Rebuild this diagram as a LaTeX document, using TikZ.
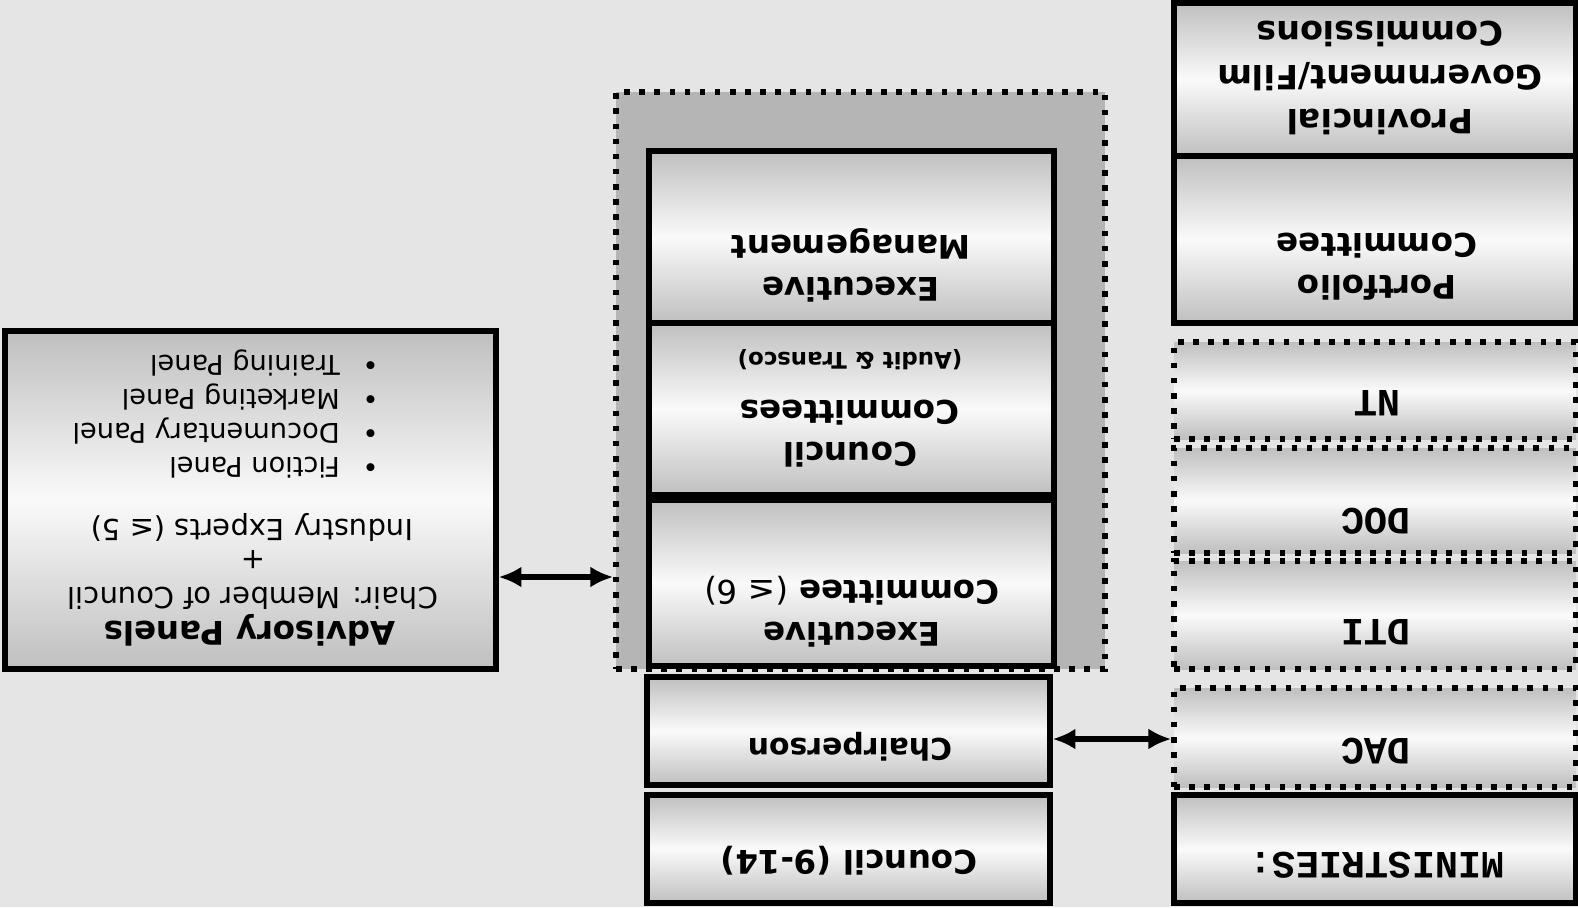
\documentclass[tikz,border=0pt]{standalone}
\usepackage{fontspec}
\setmainfont{DejaVu Sans}
\newfontfamily\monofont{Liberation Mono}
\usepackage{tikz}
\usetikzlibrary{arrows.meta,fit}

\begin{document}
\begin{tikzpicture}[
    x=0.02cm, y=-0.02cm,
    shadebox/.style={draw=black, line width=3pt, inner sep=0pt, top color=gray!50, bottom color=gray!50, middle color=gray!4},
    dotbox/.style={shadebox, line width=3.2pt, dash pattern=on 3.2pt off 5.4pt},
    grouparea/.style={draw=black, line width=3.2pt, dash pattern=on 3.2pt off 5.4pt, fill=gray!58, inner sep=0pt},
    head/.style={rotate=180, align=center, inner sep=0pt, font=\bfseries\fontsize{18.5}{24}\selectfont},
    smallhead/.style={head, font=\bfseries\fontsize{17}{21}\selectfont},
    codehead/.style={rotate=180, inner sep=0pt, font=\monofont\bfseries\fontsize{22}{26}\selectfont},
    body/.style={rotate=180, inner sep=0pt, font=\fontsize{16.5}{20}\selectfont},
    twoway/.style={{Latex[length=13pt,width=12pt]}-{Latex[length=13pt,width=12pt]}, line width=3.5pt}
  ]
    \useasboundingbox (0,0) rectangle (1578,907);
    \clip (0,0) rectangle (1578,907);
    \fill[gray!20] (0,0) rectangle (1578,907);

    % advisory panels
    \node[shadebox, fit={(5,331) (496,669)}] (advisory) {};
    \node[head] (advtitle) at (250,630) {Advisory Panels};
    \node[body] (advchair) at (253,598) {Chair: Member of Council};
    \node[body] (advplus) at (253,560) {+};
    \node[body] (advexperts) at (252,527) {Industry Experts (≤ 5)};
    \node[body, align=left, anchor=west, font=\fontsize{15.5}{19.3}\selectfont] (panels) at (379,414)
      {•\hspace{13pt}Fiction Panel\\
       •\hspace{13pt}Documentary Panel\\
       •\hspace{13pt}Marketing Panel\\
       •\hspace{13pt}Training Panel};

    % council group
    \node[grouparea, fit={(616,92) (1105,669)}] (execgroup) {};
    \node[shadebox, fit={(649,151) (1054,323)}] (mgmt) {};
    \node[shadebox, fit={(649,323) (1054,495)}] (councilcomm) {};
    \node[shadebox, fit={(649,500) (1054,666)}] (execcomm) {};
    \node[head] (mgmtlabel) at (851,265) {Executive\\Management};
    \node[head] (commlabel) at (850,434) {Council\\Committees};
    \node[head, font=\bfseries\fontsize{13}{15}\selectfont] (auditlabel) at (850,360) {(Audit \& Transco)};
    \node[head] (execlabel) at (852,612) {Executive\\Committee {\mdseries (≤ 6)}};

    \node[shadebox, fit={(647,677) (1050,785)}] (chair) {};
    \node[shadebox, fit={(647,795) (1050,903)}] (council) {};
    \node[smallhead] (chairlabel) at (850,747) {Chairperson};
    \node[head] (councillabel) at (849,861) {Council (9-14)};

    % right column
    \node[shadebox, fit={(1174,3) (1576,156)}] (provincial) {};
    \node[shadebox, fit={(1174,156) (1576,323)}] (portfolio) {};
    \node[dotbox, fit={(1174,342) (1576,439)}] (nt) {};
    \node[dotbox, fit={(1174,448) (1576,553)}] (doc) {};
    \node[dotbox, fit={(1174,561) (1576,669)}] (dti) {};
    \node[dotbox, fit={(1174,688) (1576,787)}] (dac) {};
    \node[shadebox, fit={(1174,795) (1576,903)}] (ministries) {};
    \node[head, font=\bfseries\fontsize{19}{25}\selectfont] (provlabel) at (1380,78) {Provincial\\Government/Film\\Commissions};
    \node[head] (portlabel) at (1377,267) {Portfolio\\Committee};
    \node[codehead] (ntlabel) at (1377,403) {NT};
    \node[codehead] (doclabel) at (1376,521) {DOC};
    \node[codehead] (dtilabel) at (1376,632) {DTI};
    \node[codehead] (daclabel) at (1376,751) {DAC};
    \node[codehead] (minlabel) at (1377,865) {MINISTRIES:};

    % links
    \coordinate (advlink) at (0,577);
    \coordinate (chairlink) at (0,739);
    \draw[twoway] (advisory.east |- advlink) -- (execgroup.west |- advlink);
    \draw[twoway] (chair.east |- chairlink) -- (dac.west |- chairlink);
\end{tikzpicture}
\end{document}
